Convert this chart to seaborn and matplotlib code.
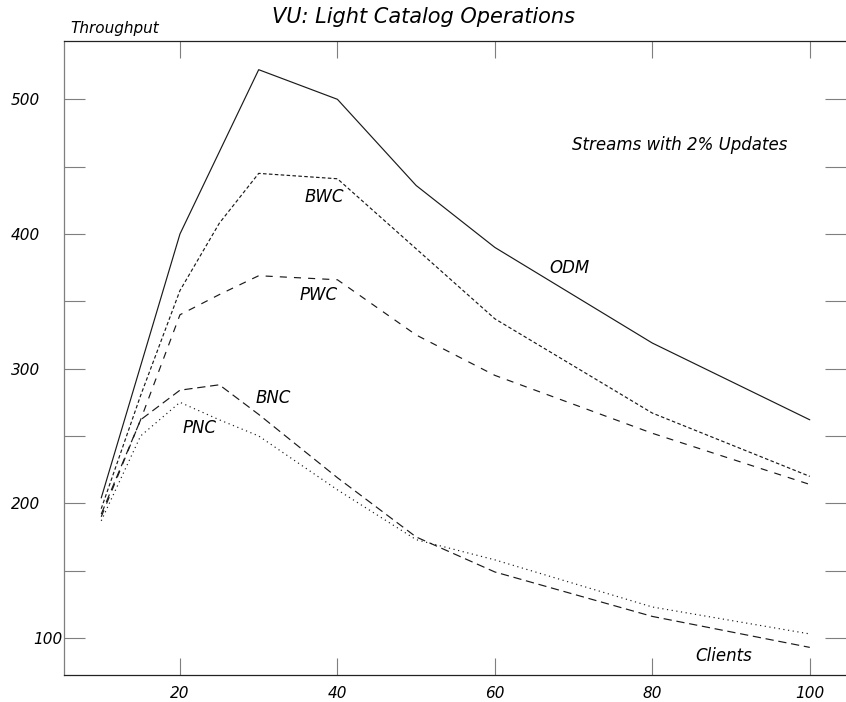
import matplotlib
matplotlib.use("Agg")
import matplotlib.pyplot as plt
import matplotlib.transforms as mtransforms
import numpy as np
import pandas as pd
import seaborn as sns

# Throughput of the five configurations versus number of clients
clients = [10, 15, 20, 25, 30, 40, 50, 60, 80, 100]
odm = [204, 302, 400, 461, 522, 500, 436, 390, 319, 262]
bwc = [196, 280, 358, 408, 445, 441, 389, 337, 267, 220]
pwc = [190, 262, 340, 355, 369, 366, 325, 295, 252, 214]
bnc = [192, 262, 284, 288, 266, 219, 175, 149, 116, 93]
pnc = [187, 250, 275, 262, 250, 210, 173, 158, 123, 103]

series_names = ["ODM", "BWC", "PWC", "BNC", "PNC"]
series_values = [odm, bwc, pwc, bnc, pnc]

x_ticks = [20, 40, 60, 80, 100]
y_ticks = [100, 200, 300, 400, 500]
y_minor = [150, 250, 350, 450]

df = pd.DataFrame({
    "Clients": np.tile(clients, len(series_names)),
    "Throughput": np.concatenate(series_values),
    "series": np.repeat(series_names, len(clients)),
})

sns.set_theme(style="white")
plt.rcParams["font.family"] = ["DejaVu Sans"]

fig = plt.figure(figsize=(8.46, 7.02), dpi=100)
W, H = 846, 702
ax = fig.add_axes([64 / W, (H - 675) / H, (846 - 64) / W, (675 - 41) / H])

line_color = "#1a1a1a"
dash_map = {"ODM": "", "BWC": (3, 2), "PWC": (6, 6), "BNC": (7, 4), "PNC": (1, 3)}
sns.lineplot(data=df, x="Clients", y="Throughput", style="series",
             dashes=dash_map, color=line_color, linewidth=0.85,
             legend=False, ax=ax, estimator=None, sort=False)

ax.set_xlim(5.27, 104.6)
ax.set_ylim(72.5, 543.3)
ax.set_xlabel("")
ax.set_ylabel("")

ax.set_xticks(x_ticks)
ax.set_xticklabels([str(v) for v in x_ticks])
ax.set_yticks(y_ticks)
ax.set_yticklabels([str(v) for v in y_ticks])
ax.set_yticks(y_minor, minor=True)

tick_grey = "#7f7f7f"
ax.tick_params(axis="y", which="both", direction="in", length=15.1, width=0.8,
               color=tick_grey, left=True, right=True, labelright=False, pad=17.3)
ax.tick_params(axis="x", which="both", direction="in", length=12.2, width=0.8,
               color=tick_grey, bottom=True, top=True, labeltop=False, pad=8)
ax.tick_params(axis="x", which="minor", bottom=False, top=False)

for lab in ax.get_xticklabels() + ax.get_yticklabels():
    lab.set_fontstyle("italic")
    lab.set_fontsize(11)
    lab.set_color("#000000")

# the lowest y label sits against the axis line
for lab in ax.get_yticklabels():
    if lab.get_text() == "100":
        off = mtransforms.ScaledTranslation(23 / 100, 0, fig.dpi_scale_trans)
        lab.set_transform(lab.get_transform() + off)

ax.spines["right"].set_visible(False)
ax.spines["left"].set_color(tick_grey)
ax.spines["left"].set_linewidth(0.9)
for side in ("top", "bottom"):
    ax.spines[side].set_color("#222222")
    ax.spines[side].set_linewidth(0.9)

txt = dict(fontstyle="italic", fontsize=12, color="#000000")
ax.text(69.5, 375.1, "ODM", ha="center", va="center", **txt)
ax.text(38.3, 427.1, "BWC", ha="center", va="center", **txt)
ax.text(37.65, 354.7, "PWC", ha="center", va="center", **txt)
ax.text(31.8, 278.2, "BNC", ha="center", va="center", **txt)
ax.text(22.5, 255.6, "PNC", ha="center", va="center", **txt)
ax.text(89.1, 86.7, "Clients", ha="center", va="center", **txt)
ax.text(83.5, 466.1, "Streams with 2% Updates", ha="center", va="center", **txt)

fig.text(70 / W, 1 - 33 / H, "Throughput", ha="left", va="baseline",
         fontstyle="italic", fontsize=11, color="#000000")
fig.text(423 / W, 1 - 23 / H, "VU: Light Catalog Operations", ha="center",
         va="baseline", fontstyle="italic", fontsize=15, color="#000000")

fig.savefig("out.png", dpi=100)
